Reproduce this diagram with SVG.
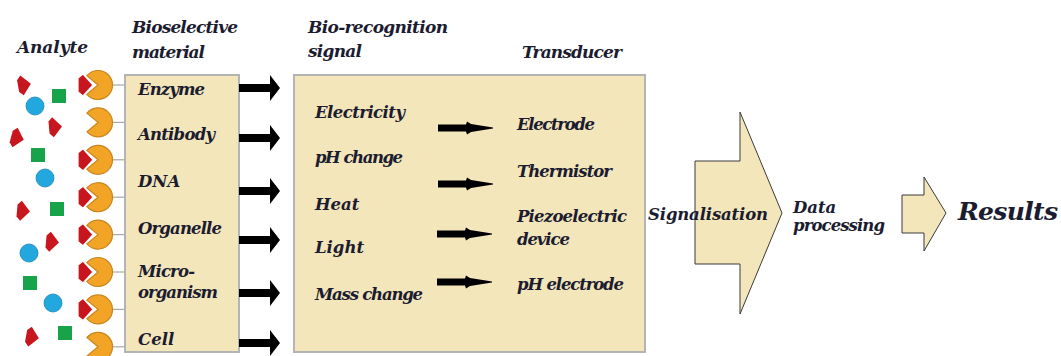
<svg xmlns="http://www.w3.org/2000/svg" xmlns:xlink="http://www.w3.org/1999/xlink" width="1061" height="356" viewBox="0 0 1061 356">
<style>
.t{font-family:"DejaVu Serif","Liberation Serif",serif;font-weight:bold;font-style:italic;fill:#1c1c30;font-size:16.5px}
.h{font-size:17px}
.big{font-size:25px}
.box{fill:#F3E6BA;stroke:#B4B4B4;stroke-width:2}
.arr{fill:#F3E6BA;stroke:#3a3a3a;stroke-width:1}
.pac{fill:#F2A426;stroke:#C8861E;stroke-width:1.2}
.red{fill:#C8161E;stroke:#ffffff;stroke-width:1.2}
.redf{fill:#C8161E}
.grn{fill:#17A34A}
.blu{fill:#22A7DF;stroke:#1A86B8;stroke-width:0.8}
.tie{stroke:#A8A8A8;stroke-width:1.2}
.blk{fill:#000}
</style>
<defs>
<path id="pacman" d="M0,0 L-11.1,-9.3 A14.5,14.5 0 1 1 -11.1,9.3 Z"/>
<path id="redIn" d="M-7,-7 L-2,-11 L8,0 L-2,11 L-7,7 Z"/>
<path id="redFree" d="M-6,-6 L-2,-10 L7,0 L-2,10 L-6,6 Z"/>
<path id="bigArrow" d="M0,-4 L31,-4 L31,-13 L41,0 L31,13 L31,4 L0,4 Z"/>
<path id="smallArrow" d="M0,-3.5 L28,-3.5 L29,-6.5 L33,-4 L55,-0.6 L55,0.6 L33,4 L29,6.5 L28,3.5 L0,3.5 Z"/>
</defs>
<rect x="0" y="0" width="1061" height="356" fill="#ffffff"/>

<g id="analyte">
<text class="t h" x="17" y="53" textLength="71">Analyte</text>
<use href="#redFree" class="redf" transform="translate(24,85) rotate(-10)"/>
<rect class="grn" x="52" y="89" width="14" height="14"/>
<circle class="blu" cx="35" cy="106" r="9"/>
<use href="#redFree" class="redf" transform="translate(55,127) rotate(-5)"/>
<use href="#redFree" class="redf" transform="translate(17,138) rotate(15)"/>
<rect class="grn" x="31" y="148" width="14" height="14"/>
<circle class="blu" cx="45" cy="178" r="9"/>
<use href="#redFree" class="redf" transform="translate(23,211) rotate(5)"/>
<rect class="grn" x="50" y="202" width="14" height="14"/>
<use href="#redFree" class="redf" transform="translate(52,242) rotate(5)"/>
<circle class="blu" cx="29" cy="253" r="9"/>
<rect class="grn" x="23" y="276" width="14" height="14"/>
<circle class="blu" cx="53" cy="303" r="9"/>
<use href="#redFree" class="redf" transform="translate(32,337) rotate(10)"/>
<rect class="grn" x="58" y="326" width="14" height="14"/>
</g>

<g id="receptors">
<line class="tie" x1="112" y1="85" x2="126" y2="85"/>
<line class="tie" x1="112" y1="122.4" x2="126" y2="122.4"/>
<line class="tie" x1="112" y1="159.8" x2="126" y2="159.8"/>
<line class="tie" x1="112" y1="197.2" x2="126" y2="197.2"/>
<line class="tie" x1="112" y1="234.6" x2="126" y2="234.6"/>
<line class="tie" x1="112" y1="272" x2="126" y2="272"/>
<line class="tie" x1="112" y1="309.4" x2="126" y2="309.4"/>
<line class="tie" x1="112" y1="346.8" x2="126" y2="346.8"/>
<use href="#pacman" class="pac" transform="translate(98,85)"/>
<use href="#pacman" class="pac" transform="translate(98,122.4)"/>
<use href="#pacman" class="pac" transform="translate(98,159.8)"/>
<use href="#pacman" class="pac" transform="translate(98,197.2)"/>
<use href="#pacman" class="pac" transform="translate(98,234.6)"/>
<use href="#pacman" class="pac" transform="translate(98,272)"/>
<use href="#pacman" class="pac" transform="translate(98,309.4)"/>
<use href="#pacman" class="pac" transform="translate(98,346.8)"/>
<use href="#redIn" class="red" transform="translate(85,85)"/>
<use href="#redIn" class="red" transform="translate(85,159.8)"/>
<use href="#redIn" class="red" transform="translate(85,197.2)"/>
<use href="#redIn" class="red" transform="translate(85,234.6)"/>
<use href="#redIn" class="red" transform="translate(85,272)"/>
<use href="#redIn" class="red" transform="translate(85,309.4)"/>
</g>

<g id="bioselective">
<text class="t h" x="132" y="33" textLength="106">Bioselective</text>
<text class="t h" x="132" y="58" textLength="73">material</text>
<rect class="box" x="125" y="75" width="114" height="277"/>
<text class="t" x="138" y="95" textLength="67">Enzyme</text>
<text class="t" x="138" y="140" textLength="77">Antibody</text>
<text class="t" x="138" y="187">DNA</text>
<text class="t" x="138" y="234" textLength="84">Organelle</text>
<text class="t" x="138" y="277" textLength="57">Micro-</text>
<text class="t" x="138" y="298" textLength="80">organism</text>
<text class="t" x="138" y="345">Cell</text>
</g>

<g id="recognition">
<text class="t h" x="308" y="33" textLength="140">Bio-recognition</text>
<text class="t h" x="308" y="57" textLength="54">signal</text>
<text class="t h" x="522" y="58" textLength="100">Transducer</text>
<rect class="box" x="294" y="75" width="351" height="277"/>
<text class="t" x="315" y="118" textLength="90">Electricity</text>
<text class="t" x="315" y="163" textLength="88">pH change</text>
<text class="t" x="315" y="210">Heat</text>
<text class="t" x="315" y="253">Light</text>
<text class="t" x="315" y="300" textLength="108">Mass change</text>
<text class="t" x="517" y="130" textLength="78">Electrode</text>
<text class="t" x="517" y="177" textLength="95">Thermistor</text>
<text class="t" x="517" y="222" textLength="110">Piezoelectric</text>
<text class="t" x="517" y="245" textLength="53">device</text>
<text class="t" x="517" y="290" textLength="107">pH electrode</text>
</g>

<g id="signalisation">
<path class="arr" d="M695,161 L740,161 L740,112 L782,213 L740,314 L740,264 L695,264 Z"/>
<text class="t" x="648" y="220" textLength="120">Signalisation</text>
</g>

<g id="data-processing">
<text class="t" x="793" y="213">Data</text>
<text class="t" x="793" y="231" textLength="92">processing</text>
</g>

<g id="results">
<path class="arr" d="M902,195 L924,195 L924,177 L946,213 L924,251 L924,233 L902,233 Z"/>
<text class="t big" x="958" y="220" textLength="100">Results</text>
</g>

<g id="connectors">
<use href="#bigArrow" class="blk" transform="translate(239,88)"/>
<use href="#bigArrow" class="blk" transform="translate(239,138)"/>
<use href="#bigArrow" class="blk" transform="translate(239,191)"/>
<use href="#bigArrow" class="blk" transform="translate(239,240)"/>
<use href="#bigArrow" class="blk" transform="translate(239,293)"/>
<use href="#bigArrow" class="blk" transform="translate(239,343)"/>
<use href="#smallArrow" class="blk" transform="translate(438,128)"/>
<use href="#smallArrow" class="blk" transform="translate(438,184)"/>
<use href="#smallArrow" class="blk" transform="translate(437,234)"/>
<use href="#smallArrow" class="blk" transform="translate(437,282)"/>
</g>
</svg>
